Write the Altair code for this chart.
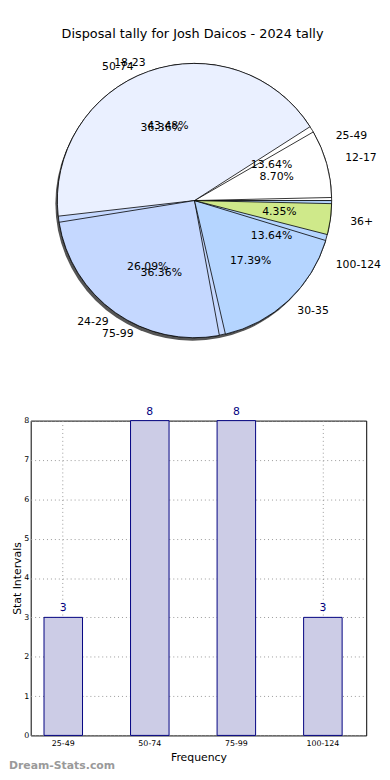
import math
import altair as alt
import pandas as pd

PI = math.pi

TITLE = "Disposal tally for Josh Daicos - 2024 tally"

# pie 1 (stat intervals) - drawn underneath
pie1_labels = ["25-49", "50-74", "75-99", "100-124"]
pie1_values = [3, 8, 8, 3]
pie1_colors = ["#ffffff", "#eaf0ff", "#c5d8ff", "#b5d5ff"]

# pie 2 (age groups) - drawn on top
pie2_labels = ["12-17", "18-23", "24-29", "30-35", "36+"]
pie2_values = [2, 10, 6, 4, 1]
pie2_colors = ["#ffffff", "#eaf0ff", "#c5d8ff", "#b5d5ff", "#cfe98a"]

# bar chart
bar_labels = ["25-49", "50-74", "75-99", "100-124"]
bar_values = [3, 8, 8, 3]

# layout: the reference pie is slightly elliptical; labels follow that ellipse
RX, RY = 145, 133


def pie_frame(labels, values, colors):
    total = sum(values)
    cum = 0
    rows = []
    for i, (lab, v, c) in enumerate(zip(labels, values, colors)):
        start = cum / total
        cum += v
        end = cum / total
        mid = (start + end) / 2
        ang = 2 * PI * mid
        side = "right" if math.cos(ang) >= 0 else "left"
        er = math.hypot(RX * math.cos(ang), RY * math.sin(ang))
        rows.append(dict(label=lab, value=v, color=c, start=start, end=end,
                         mid=mid, pct=f"{100 * v / total:.2f}%", side=side, order=i,
                         lr=1.1 * er, pr=0.6 * er))
    return pd.DataFrame(rows)


df1 = pie_frame(pie1_labels, pie1_values, pie1_colors)
df2 = pie_frame(pie2_labels, pie2_values, pie2_colors)
bars = pd.DataFrame({"cat": bar_labels, "val": bar_values})

FONT = "DejaVu Sans"
L = 22  # left extent of bar y-axis (title + labels)
W = 370 - 8 - L
PIE_H = 400
BAR_H = 319
CX = 196 - 8 - L
CY = 190
R = 139

theta_scale = alt.Scale(domain=[0, 1], range=[2.5 * PI, 0.5 * PI])


def arcs(df, pad):
    kw = dict(radius=R, stroke="black", strokeWidth=0.8)
    if pad:
        kw["padAngle"] = pad
    return alt.Chart(df).mark_arc(**kw).encode(
        theta=alt.Theta("start:Q", scale=theta_scale, stack=None),
        theta2="end:Q",
        color=alt.Color("color:N", scale=None),
        x=alt.value(CX), y=alt.value(CY),
    )


def pct_text(df):
    return alt.Chart(df).mark_text(fontSize=11, font=FONT, color="black").encode(
        theta=alt.Theta("mid:Q", scale=theta_scale, stack=None),
        radius=alt.Radius("pr:Q", scale=None),
        text="pct:N",
        x=alt.value(CX), y=alt.value(CY),
    )


def outer_text(df, side):
    return alt.Chart(df).transform_filter(alt.datum.side == side).mark_text(
        fontSize=11, font=FONT, color="black",
        align="left" if side == "right" else "right",
    ).encode(
        theta=alt.Theta("mid:Q", scale=theta_scale, stack=None),
        radius=alt.Radius("lr:Q", scale=None),
        text="label:N",
        x=alt.value(CX), y=alt.value(CY),
    )


shadow = alt.Chart(pd.DataFrame({"a": [1]})).mark_arc(radius=R, color="#555555").encode(
    theta=alt.value(0), theta2=alt.value(2 * PI),
    x=alt.value(CX - 2), y=alt.value(CY + 3),
)

title = alt.Chart(pd.DataFrame({"t": [TITLE]})).mark_text(fontSize=13, font=FONT, color="black").encode(
    text="t:N", x=alt.value(CX - 2), y=alt.value(21),
)

pie = alt.layer(
    title, shadow,
    arcs(df1, 0), outer_text(df1, "left"), outer_text(df1, "right"),
    arcs(df2, 0.045), pct_text(df1), pct_text(df2),
    outer_text(df2, "left"), outer_text(df2, "right"),
).properties(width=W, height=PIE_H, view=alt.ViewBackground(stroke=None))

xaxis = alt.Axis(labelAngle=0, labelFontSize=8, titleFontSize=11, titleFontWeight="normal",
                 grid=True, gridDash=[1, 3], gridColor="#999999", bandPosition=0.5,
                 ticks=False, labelPadding=4, titlePadding=4, domain=False,
                 labelColor="black", titleColor="black")
yaxis = alt.Axis(values=[0, 1, 2, 3, 4, 5, 6, 7, 8], labelFontSize=8, titleFontSize=11,
                 titleFontWeight="normal", grid=True, gridDash=[1, 3], gridColor="#999999",
                 ticks=False, labelPadding=2, titlePadding=1, domain=False, labelOverlap=False,
                 labelColor="black", titleColor="black")
xenc = alt.X("cat:N", sort=bar_labels, title="Frequency",
             scale=alt.Scale(paddingInner=0.555, paddingOuter=0.216, align=0.356), axis=xaxis)
yenc = alt.Y("val:Q", title="Stat Intervals",
             scale=alt.Scale(domain=[0, 8], nice=False), axis=yaxis)

bar_base = alt.Chart(bars)
barmarks = bar_base.mark_bar(fill="#ccccE6", stroke="#000080", strokeWidth=1).encode(x=xenc, y=yenc)
barlabels = bar_base.mark_text(dy=-9, fontSize=11, font=FONT, color="#000080").encode(
    x=xenc, y=yenc, text="val:Q")
watermark = alt.Chart(pd.DataFrame({"t": ["Dream-Stats.com"]})).mark_text(
    fontSize=11, font=FONT, fontWeight="bold", color="#9a9a9a", align="left", baseline="middle"
).encode(text="t:N", x=alt.value(-L), y=alt.value(350))

barchart = alt.layer(barmarks, barlabels, watermark).properties(
    width=W, height=BAR_H, view=alt.ViewBackground(stroke="black", strokeWidth=1))

chart = alt.vconcat(pie, barchart, spacing=13, bounds="flush").properties(
    padding=0).configure(font=FONT).configure_view(stroke=None)

chart.save("out.html", embed_options={"renderer": "svg", "actions": False})
